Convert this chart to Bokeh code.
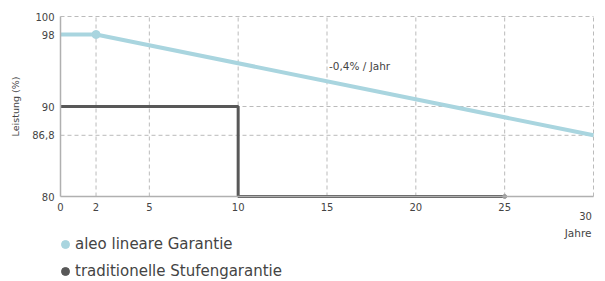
from bokeh.plotting import figure
from bokeh.models import FixedTicker, Label, Legend, LegendItem, ColumnDataSource
from bokeh.embed import file_html
from bokeh.resources import INLINE

# data
linear_years = [0, 2, 30]
linear_values = [98, 98, 86.8]
step_years = [0, 10, 10, 25]
step_values = [90, 90, 80, 80]
x_ticks = [0, 2, 5, 10, 15, 20, 25]
y_ticks = [80, 86.8, 90, 98, 100]
y_grid = [86.8, 90, 100]
x_grid = [2, 5, 10, 15, 20, 25, 30]
slope_text = "-0,4% / Jahr"
x_title = "Jahre"
y_title = "Leistung (%)"
legend_labels = ["aleo lineare Garantie", "traditionelle Stufengarantie"]

X0, X1 = 0, 30
Y0, Y1 = 80, 100

BLUE = "#a9d5df"
DARK = "#585858"
TEXT = "#444444"
GRID = "#bbbbbb"
AXIS = "#b0b0b0"
FONT = "DejaVu Sans"

W, H = 605, 281
left_px, right_px, top_px, bottom_px = 60, 593, 16, 196
xs = (right_px - left_px) / (X1 - X0)
ys = (bottom_px - top_px) / (Y1 - Y0)
x_range = (X0 - left_px / xs, X1 + (W - right_px) / xs)
y_range = (Y0 - (H - bottom_px) / ys, Y1 + top_px / ys)

p = figure(width=W, height=H, x_range=x_range, y_range=y_range,
           output_backend="svg", toolbar_location=None, min_border=0)
p.outline_line_color = None
p.background_fill_color = "white"
p.xgrid.visible = False
p.ygrid.visible = False

# dashed grid limited to the data area
p.segment(x0=x_grid, y0=[Y0] * len(x_grid), x1=x_grid, y1=[Y1] * len(x_grid),
          line_color=GRID, line_dash="4 3", line_width=1)
p.segment(x0=[X0] * len(y_grid), y0=y_grid, x1=[X1] * len(y_grid), y1=y_grid,
          line_color=GRID, line_dash="4 3", line_width=1)

p.xaxis.fixed_location = Y0
p.yaxis.fixed_location = X0
p.xaxis.bounds = (X0, X1)
p.yaxis.bounds = (Y0, Y1)
p.xaxis.ticker = FixedTicker(ticks=x_ticks)
p.yaxis.ticker = FixedTicker(ticks=y_ticks)
p.yaxis.major_label_overrides = {86.8: "86,8"}

for ax in (p.xaxis, p.yaxis):
    ax.axis_line_color = AXIS
    ax.axis_line_width = 1.5
    ax.major_tick_out = 0
    ax.major_tick_in = 0
    ax.minor_tick_out = 0
    ax.minor_tick_in = 0
    ax.major_label_text_font = FONT
    ax.major_label_text_font_size = "10px"
    ax.major_label_text_color = TEXT
p.xaxis.major_label_standoff = 6
p.yaxis.major_label_standoff = 6
p.yaxis.axis_label = y_title
p.yaxis.axis_label_text_font = FONT
p.yaxis.axis_label_text_font_size = "9.5px"
p.yaxis.axis_label_text_font_style = "normal"
p.yaxis.axis_label_text_color = TEXT
p.yaxis.axis_label_standoff = 8

r_step = p.line(step_years, step_values, line_color=DARK, line_width=3)
p.scatter([step_years[-1]], [step_values[-1]], size=4, color="#999999")
r_lin = p.line(linear_years, linear_values, line_color=BLUE, line_width=4)
p.scatter([linear_years[1]], [linear_values[1]], size=8, color=BLUE)

p.add_layout(Label(x=15, y=94.5, text=slope_text, x_offset=2, text_baseline="middle",
                   text_font=FONT, text_font_size="10.5px", text_color=TEXT))
p.add_layout(Label(x=X1, y=Y0, y_offset=-19, x_offset=-8, text="30", text_align="center",
                   text_baseline="middle",
                   text_font=FONT, text_font_size="10px", text_color=TEXT))
p.add_layout(Label(x=X1, y=Y0, y_offset=-36, x_offset=-2, text=x_title, text_align="right",
                   text_baseline="middle",
                   text_font=FONT, text_font_size="10.5px", text_color=TEXT))

# legend proxies
nan = float("nan")
src = ColumnDataSource(data=dict(x=[nan], y=[nan]))
lg1 = p.scatter("x", "y", source=src, marker="circle", color=BLUE)
lg2 = p.scatter("x", "y", source=src, marker="circle", color=DARK)
legend = Legend(items=[LegendItem(label=legend_labels[0], renderers=[lg1]),
                       LegendItem(label=legend_labels[1], renderers=[lg2])],
                location=(55, 0), orientation="vertical",
                border_line_color=None, background_fill_alpha=0,
                padding=0, margin=0, spacing=7, label_height=20, glyph_width=20, glyph_height=20,
                label_standoff=0, label_text_font=FONT, label_text_font_size="15px",
                label_text_color=TEXT)
p.add_layout(legend, "center")

open("out.html", "w").write(file_html(p, INLINE))
